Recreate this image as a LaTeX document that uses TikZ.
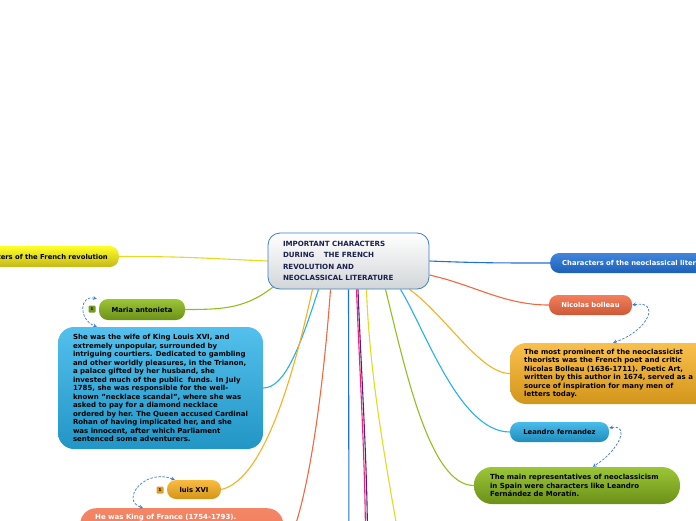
\documentclass[tikz,border=0pt]{standalone}
\usepackage{fontspec}
\setmainfont{DejaVu Sans}
\usetikzlibrary{backgrounds}

\definecolor{topicedge}{HTML}{3A80C8}
\definecolor{topicgray}{HTML}{D2D6D8}
\definecolor{navy}{HTML}{1A2050}
\definecolor{dashblue}{HTML}{3A7AD0}
\definecolor{lyellow}{HTML}{E8D820}
\definecolor{lgreen}{HTML}{90C020}
\definecolor{lsky}{HTML}{28B0E8}
\definecolor{lorange}{HTML}{F8B020}
\definecolor{lred}{HTML}{F06840}
\definecolor{lblue}{HTML}{2070D8}
\definecolor{lpurple}{HTML}{5E1E78}
\definecolor{lpink}{HTML}{F02080}

\begin{document}
\begin{tikzpicture}[x=1pt, y=-1pt,
			topic/.style={
				rectangle,
				draw=topicedge,
				line width=0.8pt,
				rounded corners=12pt,
				top color=white,
				bottom color=topicgray,
				text=navy,
				align=flush left,
				text width=131pt,
				inner xsep=15pt,
				minimum height=56pt,
				font=\fontsize{7.1}{11.3}\selectfont\bfseries
			},
			pill/.style={
				rectangle,
				rounded corners=9pt,
				minimum height=20pt,
				inner xsep=10pt,
				font=\fontsize{6.8}{8}\selectfont\bfseries
			},
			infobox/.style={
				rectangle,
				rounded corners=16pt,
				align=flush left,
				inner xsep=15pt,
				font=\fontsize{7}{8.5}\selectfont\bfseries
			},
			badge/.style={
				rectangle,
				rounded corners=1pt,
				minimum size=7pt,
				inner sep=0pt,
				font=\fontsize{4}{4}\selectfont\bfseries
			},
			link/.style={line width=1.1pt},
			dashlink/.style={stealth-stealth, dash pattern=on 2.5pt off 1.5pt, draw=dashblue, line width=0.7pt}
			]
			
			\clip (0,0) rectangle (696,520);
			
			\node (topic) [topic] at (348.5,261) {IMPORTANT CHARACTERS\\DURING\hspace{1.3em}THE FRENCH\\REVOLUTION AND\\NEOCLASSICAL LITERATURE};
			
			\node (frev) [pill, top color=yellow!85!white, bottom color=lyellow!85!black, anchor=east, inner xsep=11pt, minimum height=21pt] at (119,256.5) {Characters of the French revolution};
			
			\node (maria) [pill, top color=lgreen!90!white, bottom color=lgreen!75!black, minimum width=86pt, minimum height=21pt] at (142,309.5) {Maria antonieta};
			\node (mariabadge) [badge, fill=lgreen!80!black] at (92,309) {1};
			\node (queen) [infobox, top color=lsky!80!white, bottom color=lsky!85!black, text width=175pt, minimum height=122pt] at (160.5,388) {She was the wife of King Louis XVI, and\\extremely unpopular, surrounded by\\intriguing courtiers. Dedicated to gambling\\and other worldly pleasures, in the Trianon,\\a palace gifted by her husband, she\\invested much of the public\ \ funds. In July\\1785, she was responsible for the well-\\known "necklace scandal", where she was\\asked to pay for a diamond necklace\\ordered by her. The Queen accused Cardinal\\Rohan of having implicated her, and she\\was innocent, after which Parliament\\sentenced some adventurers.};
			
			\node (luis) [pill, top color=lorange!85!white, bottom color=lorange!85!black, minimum width=54pt, minimum height=19pt] at (194,489.5) {luis XVI};
			\node (luisbadge) [badge, fill=lorange!90!black] at (160,490) {1};
			\node (luisinfo) [infobox, top color=lred!80!white, bottom color=lred, text=white, text width=173pt, anchor=north west, inner ysep=6pt, text depth=70pt] at (80,508) {He was King of France (1754-1793).};
			
			\node (neoclass) [pill, top color=lblue!85!white, bottom color=lblue!85!black, text=white, anchor=west, inner xsep=12pt] at (550,263) {Characters of the neoclassical literature};
			
			\node (nicolas) [pill, top color=lred!85!white, bottom color=lred!85!black, text=white, minimum width=83pt] at (590.5,305) {Nicolas bolleau};
			\node (boileau) [infobox, top color=lorange!80!white, bottom color=lorange!85!black, anchor=west, text width=175pt, minimum height=61pt, inner xsep=14pt] at (510,373.5) {The most prominent of the neoclassicist\\theorists was the French poet and critic\\Nicolas Bolleau (1636-1711). Poetic Art,\\written by this author in 1674, served as a\\source of inspiration for many men of\\letters today.};
			
			\node (leandro) [pill, top color=lsky!85!white, bottom color=lsky!80!black, minimum width=99pt] at (559.5,432) {Leandro fernandez};
			\node (moratin) [infobox, top color=lgreen!90!white, bottom color=lgreen!75!black, text width=174pt, minimum height=37pt, inner xsep=16pt, rounded corners=18pt] at (577,485.5) {The main representatives of neoclassicism\\in Spain were characters like Leandro\\Fernández de Moratín.};
			
			\coordinate (blueend) at (349,560);
			\coordinate (pinkend) at (365.5,545);
			\coordinate (purpleend) at (367.5,545);
			\coordinate (yellowend) at (400,545);
			
			\begin{pgfonlayer}{background}
			\draw [link, lyellow] (topic.west) .. controls +(-70,-3) and +(70,0) .. (frev.east);
			\draw [link, lgreen] ([xshift=10pt, yshift=6pt]topic.south west) .. controls +(-30,25) and +(40,0) .. (maria.east);
			\draw [link, lsky] ([xshift=-30pt]topic.south) .. controls +(-18,56) and +(22,0) .. (queen.east);
			\draw [link, lorange] ([xshift=-36pt]topic.south) .. controls +(-18,81) and +(44,-10) .. (luis.east);
			\draw [link, lred] ([xshift=-18pt]topic.south) .. controls +(-8,111) and +(22,-31) .. (luisinfo.east);
			\draw [link, lblue] (topic.south) -- (blueend);
			\draw [link, lpink] ([xshift=8pt]topic.south) .. controls +(3,80) and +(0,-80) .. (pinkend);
			\draw [link, lpurple] ([xshift=9.5pt]topic.south) .. controls +(3,80) and +(0,-80) .. (purpleend);
			\draw [link, lyellow] ([xshift=18pt]topic.south) .. controls +(3,90) and +(-12,-70) .. (yellowend);
			\draw [link, lgreen] ([xshift=37pt]topic.south) .. controls +(20,81) and +(-44,0) .. (moratin.west);
			\draw [link, lsky] ([xshift=52pt]topic.south) .. controls +(25,41) and +(-50,0) .. (leandro.west);
			\draw [link, lorange] ([xshift=61pt]topic.south) .. controls +(36,26) and +(-30,0) .. (boileau.west);
			\draw [link, lblue] (topic.east) .. controls +(50,2) and +(-50,0) .. (neoclass.west);
			\draw [link, lred] ([yshift=-14pt]topic.east) .. controls +(45,10) and +(-45,0) .. (nicolas.west);
			\end{pgfonlayer}
			
			\draw [dashlink] ([xshift=-2pt]maria.north west) .. controls +(-17,-4) and +(-19,-8) .. ([xshift=39pt]queen.north west);
			\draw [dashlink] ([xshift=8pt]luis.north west) .. controls +(-30,-12) and +(-23,-8) .. ([xshift=63pt]luisinfo.north west);
			\draw [dashlink] (nicolas.east) .. controls +(28,-5) and +(37,-13) .. ([xshift=103pt]boileau.north west);
			\draw [dashlink] ([yshift=4pt]leandro.east) .. controls +(21,-4) and +(27,-17) .. ([xshift=119pt]moratin.north west);
			
		\end{tikzpicture}
\end{document}
